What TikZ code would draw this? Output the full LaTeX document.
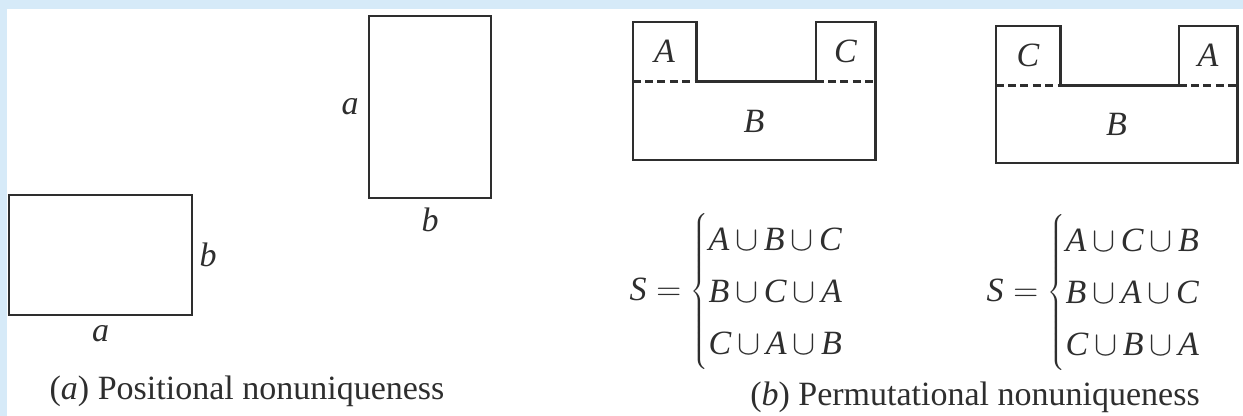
\documentclass[tikz,border=0pt]{standalone}
\usepackage{fontspec}
\setmainfont{Liberation Serif}
\usetikzlibrary{positioning}
\definecolor{scanblue}{HTML}{D6EAF8}
\definecolor{ink}{HTML}{2E2E2E}
\renewcommand{\arraystretch}{1.27}
\newcommand{\figfont}{\fontsize{17}{20.4}\selectfont}
\tikzset{
  plate/.style={draw=ink, line width=1.1pt, inner sep=0pt},
  cell/.style={inner sep=0pt, text=ink, font=\figfont\itshape,
               minimum height=29.5pt},
  rim/.style={draw=ink, line width=1.1pt, line join=miter},
  seam/.style={draw=ink, line width=1.1pt, dash pattern=on 4pt off 2.2pt},
  lbl/.style={inner sep=0pt, text=ink, font=\figfont\itshape},
  setnode/.style={inner sep=0pt, text=ink, font=\figfont},
  capnode/.style={inner sep=0pt, text=ink, anchor=base}
}

\begin{document}
\begin{tikzpicture}[x=0.5pt,y=-0.5pt,font=\figfont]

  % scan frame
  \useasboundingbox (0,0) rectangle (1243,416);
  \fill[scanblue] (0,0) rectangle (1243,416);
  \fill[white] (7,9) rectangle (1243,416);

  % (a) two placements of one plate
  \node[plate, minimum width=91.5pt, minimum height=60pt] (hplate) at (100.5,255) {};
  \node[lbl, right=3pt of hplate] (hb) {b};
  \node[lbl, below=4.5pt of hplate] (ha) {a};

  \node[plate, minimum width=61pt, minimum height=91pt] (vplate) at (430,107) {};
  \node[lbl, left=4.5pt of vplate] (va) {a};
  \node[lbl, below=4pt of vplate] (vb) {b};

  % (b) left arrangement
  \node[cell, minimum width=121pt, minimum height=39pt] (baseL) at (754,121) {B};
  \node[cell, minimum width=31.5pt, above right=0pt and 0pt of baseL.north west] (tabAL) {A};
  \node[cell, minimum width=29.5pt, above left=0pt and 0pt of baseL.north east] (tabCL) {C};
  \draw[rim] (baseL.north west) -- (baseL.south west) -- (baseL.south east) -- (baseL.north east);
  \draw[rim] (tabAL.south west) -- (tabAL.north west) -- (tabAL.north east) -- (tabAL.south east)
    -- (tabCL.south west) -- (tabCL.north west) -- (tabCL.north east) -- (tabCL.south east);
  \draw[seam] (tabAL.south west) -- (tabAL.south east);
  \draw[seam] (tabCL.south west) -- (tabCL.south east);

  % (b) right arrangement
  \node[cell, minimum width=120.5pt, minimum height=38.5pt] (baseR) at (1116.5,124.5) {B};
  \node[cell, minimum width=32pt, above right=0pt and 0pt of baseR.north west] (tabCR) {C};
  \node[cell, minimum width=29pt, above left=0pt and 0pt of baseR.north east] (tabAR) {A};
  \draw[rim] (baseR.north west) -- (baseR.south west) -- (baseR.south east) -- (baseR.north east);
  \draw[rim] (tabCR.south west) -- (tabCR.north west) -- (tabCR.north east) -- (tabCR.south east)
    -- (tabAR.south west) -- (tabAR.north west) -- (tabAR.north east) -- (tabAR.south east);
  \draw[seam] (tabCR.south west) -- (tabCR.south east);
  \draw[seam] (tabAR.south west) -- (tabAR.south east);

  % union orders
  \node[setnode] (setL) at (737,292) {$\medmuskip=3mu\relax
      \textit{S}=\left\{\begin{array}{@{}l@{}}
      \textit{A}\cup\textit{B}\cup\textit{C}\\
      \textit{B}\cup\textit{C}\cup\textit{A}\\
      \textit{C}\cup\textit{A}\cup\textit{B}\end{array}\right.$};
  \node[setnode] (setR) at (1094,293) {$\medmuskip=3mu\relax
      \textit{S}=\left\{\begin{array}{@{}l@{}}
      \textit{A}\cup\textit{C}\cup\textit{B}\\
      \textit{B}\cup\textit{A}\cup\textit{C}\\
      \textit{C}\cup\textit{B}\cup\textit{A}\end{array}\right.$};

  % captions
  \node[capnode] (capA) at (247,400) {(\textit{a}) Positional nonuniqueness};
  \node[capnode] (capB) at (975,406) {(\textit{b}) Permutational nonuniqueness};
\end{tikzpicture}
\end{document}
